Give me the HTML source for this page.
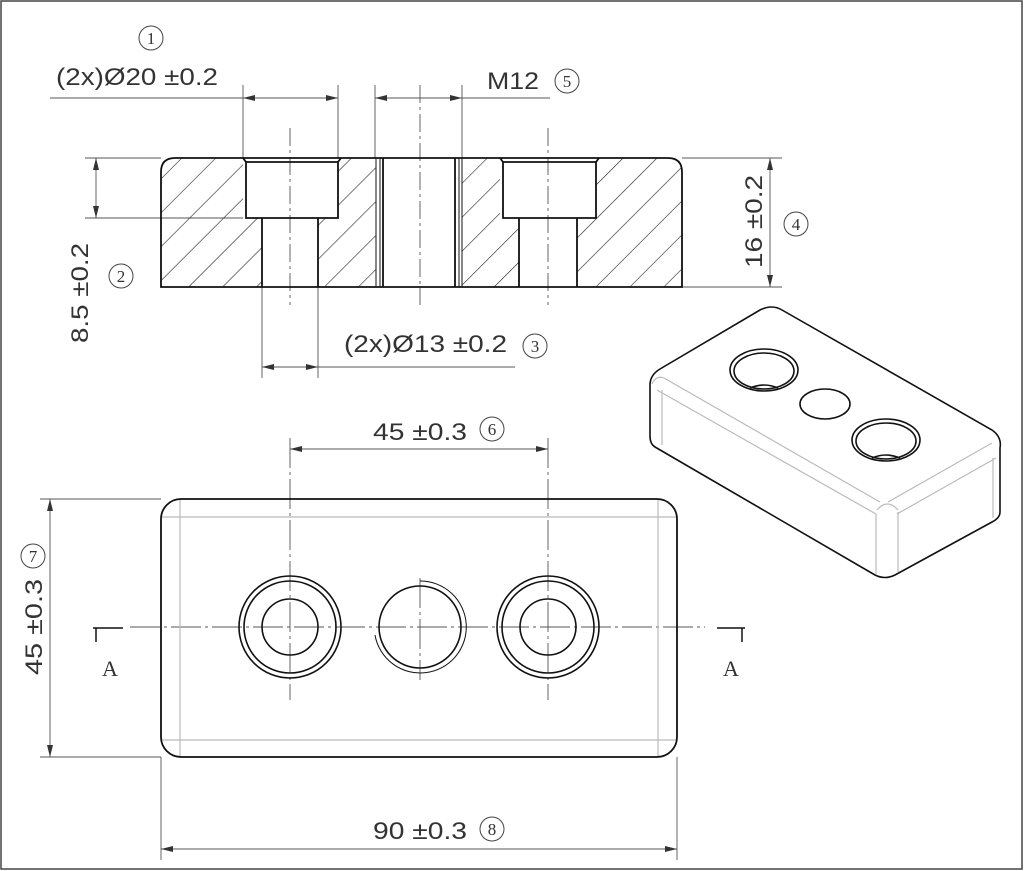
<!DOCTYPE html>
<html><head><meta charset="utf-8"><style>
html,body{margin:0;padding:0;background:#fff}
svg{display:block}
text{font-family:"Liberation Sans",sans-serif;fill:#333}
.t{font-size:24px}
.n{font-family:"Liberation Serif",serif;font-size:17px;text-anchor:middle}
</style></head><body>
<svg width="1024" height="871" viewBox="0 0 1024 871" xmlns="http://www.w3.org/2000/svg">
<defs>
<marker id="a" viewBox="0 0 12 6" refX="12" refY="3" markerWidth="12" markerHeight="6" orient="auto-start-reverse" markerUnits="userSpaceOnUse"><path d="M0,0L12,3L0,6z" fill="#333"/></marker>
<pattern id="h" width="24" height="24" patternUnits="userSpaceOnUse" patternTransform="rotate(45)"><line x1="0" y1="0" x2="0" y2="24" stroke="#222" stroke-width="1.2"/></pattern>
</defs>
<rect x="1" y="1" width="1021" height="868" fill="none" stroke="#444" stroke-width="1.5"/>
<g stroke="#555" stroke-width="0.9" fill="none">
<line x1="290" y1="128" x2="290" y2="305" stroke-dasharray="18,4,3,4"/>
<line x1="420" y1="85" x2="420" y2="305" stroke-dasharray="18,4,3,4"/>
<line x1="548" y1="128" x2="548" y2="305" stroke-dasharray="18,4,3,4"/>
<line x1="243" y1="85" x2="243" y2="158"/><line x1="338" y1="85" x2="338" y2="158"/>
<line x1="375" y1="85" x2="375" y2="158"/><line x1="462" y1="85" x2="462" y2="158"/>
<line x1="50" y1="98" x2="243" y2="98"/><line x1="462" y1="98" x2="550" y2="98"/>
<line x1="243" y1="98" x2="338" y2="98" marker-start="url(#a)" marker-end="url(#a)"/>
<line x1="375" y1="98" x2="462" y2="98" marker-start="url(#a)" marker-end="url(#a)"/>
<line x1="85" y1="158" x2="161" y2="158"/><line x1="85" y1="218" x2="243" y2="218"/>
<line x1="96" y1="158" x2="96" y2="218" marker-start="url(#a)" marker-end="url(#a)"/>
<line x1="682" y1="158" x2="782" y2="158"/><line x1="682" y1="287" x2="782" y2="287"/>
<line x1="770" y1="158" x2="770" y2="287" marker-start="url(#a)" marker-end="url(#a)"/>
<line x1="262" y1="287" x2="262" y2="378"/><line x1="318" y1="287" x2="318" y2="378"/>
<line x1="262" y1="367" x2="318" y2="367" marker-start="url(#a)" marker-end="url(#a)"/>
<line x1="318" y1="367" x2="515" y2="367"/>
</g>
<path d="M161,287 L161,172 Q161,158 175,158 L668,158 Q682,158 682,172 L682,287 Z M243,158 L338,158 L338,218 L318,218 L318,287 L262,287 L262,218 L243,218 Z M376,158 L462,158 L462,287 L376,287 Z M500,158 L596,158 L596,218 L577,218 L577,287 L519,287 L519,218 L500,218 Z" fill="url(#h)" fill-rule="evenodd" stroke="none"/>
<g stroke="#111" stroke-width="1.8" fill="none">
<path d="M161,287 L161,172 Q161,158 175,158 L668,158 Q682,158 682,172 L682,287 Z"/>
<path d="M243,158 L246,162 L338,162 L341,158 M246,162 L246,218 L338,218 L338,162 M262,218 L262,287 M318,218 L318,287"/>
<path d="M500,158 L503,162 L596,162 L599,158 M503,162 L503,218 L596,218 L596,162 M519,218 L519,287 M577,218 L577,287"/>
<path d="M383,158 L383,287 M455,158 L455,287"/>
</g>
<g stroke="#111" stroke-width="1" fill="none"><path d="M376,158 L376,287 M380,158 L380,287 M459,158 L459,287 M462,158 L462,287"/></g>
<g stroke="#444" stroke-width="1" fill="none">
<circle cx="151" cy="38" r="12"/><circle cx="567" cy="81" r="12"/><circle cx="535" cy="346" r="12"/>
<circle cx="121" cy="276" r="12"/><circle cx="796" cy="224" r="12"/><circle cx="492" cy="429" r="12"/>
<circle cx="33" cy="556" r="12"/><circle cx="492" cy="829" r="12"/>
</g>
<text class="n" x="151" y="44">1</text><text class="n" x="567" y="87">5</text><text class="n" x="535" y="352">3</text>
<text class="n" x="121" y="282">2</text><text class="n" x="796" y="230">4</text><text class="n" x="492" y="435">6</text>
<text class="n" x="33" y="562">7</text><text class="n" x="492" y="835">8</text>
<text class="t" x="56" y="85" textLength="162" lengthAdjust="spacingAndGlyphs">(2x)Ø20 ±0.2</text>
<text class="t" x="487" y="89" textLength="52" lengthAdjust="spacingAndGlyphs">M12</text>
<text class="t" x="344" y="352" textLength="163" lengthAdjust="spacingAndGlyphs">(2x)Ø13 ±0.2</text>
<text class="t" transform="translate(88,343) rotate(-90)" textLength="100" lengthAdjust="spacingAndGlyphs">8.5 ±0.2</text>
<text class="t" transform="translate(762,268) rotate(-90)" textLength="93" lengthAdjust="spacingAndGlyphs">16 ±0.2</text>
<g stroke="#555" stroke-width="0.9" fill="none">
<line x1="290" y1="438" x2="290" y2="700" stroke-dasharray="30,4,3,4"/>
<line x1="548" y1="438" x2="548" y2="700" stroke-dasharray="30,4,3,4"/>
<line x1="420" y1="578" x2="420" y2="680" stroke-dasharray="30,4,3,4"/>
<line x1="130" y1="627" x2="705" y2="627" stroke-dasharray="30,4,3,4"/>
<line x1="290" y1="449" x2="548" y2="449" marker-start="url(#a)" marker-end="url(#a)"/>
<line x1="40" y1="499" x2="161" y2="499"/><line x1="40" y1="757" x2="161" y2="757"/>
<line x1="50" y1="499" x2="50" y2="757" marker-start="url(#a)" marker-end="url(#a)"/>
<line x1="161" y1="757" x2="161" y2="860"/><line x1="677" y1="757" x2="677" y2="860"/>
<line x1="161" y1="849" x2="677" y2="849" marker-start="url(#a)" marker-end="url(#a)"/>
</g>
<g stroke="#111" stroke-width="1.5" fill="none">
<path d="M93,628 L123,628 M96,628 L96,642"/>
<path d="M717,628 L745,628 M742,628 L742,642"/>
</g>
<text x="102" y="676" style="font-family:'Liberation Serif',serif;font-size:22px">A</text>
<text x="723" y="676" style="font-family:'Liberation Serif',serif;font-size:22px">A</text>
<text class="t" x="373" y="440" textLength="94" lengthAdjust="spacingAndGlyphs">45 ±0.3</text>
<text class="t" x="373" y="839" textLength="94" lengthAdjust="spacingAndGlyphs">90 ±0.3</text>
<text class="t" transform="translate(42,675) rotate(-90)" textLength="96" lengthAdjust="spacingAndGlyphs">45 ±0.3</text>
<path d="M180,499 L180,757 M658,499 L658,757 M161,517 L677,517 M161,740 L677,740" stroke="#bbb" stroke-width="1.2" fill="none"/>
<rect x="161" y="499" width="516" height="258" rx="20" fill="none" stroke="#111" stroke-width="1.8"/>
<g stroke="#111" stroke-width="1.6" fill="none">
<circle cx="290" cy="627" r="51"/><circle cx="290" cy="627" r="46"/><circle cx="290" cy="627" r="28"/>
<circle cx="548" cy="627" r="51"/><circle cx="548" cy="627" r="46"/><circle cx="548" cy="627" r="28"/>
<circle cx="420" cy="627" r="41"/>
<path d="M420,581 A46,46 0 1,1 375,635" stroke-width="1"/>
</g>
<g stroke="#bbb" stroke-width="1.2" fill="none">
<path d="M652,384 Q656,375 664,378 L880,502 M657,390 L876,514 M888,502 L992,443 M897,514 L996,458"/>
<path d="M876,514 L876,574 M898,512 L898,572 M877,510 Q887,498 898,510 M662,390 L662,445 M993,458 L993,518"/>
</g>
<g stroke="#111" stroke-width="1.6" fill="none">
<path d="M760,310 Q772,304 782,310 L992,430 Q1002,437 1000,448 L1000,512 Q1000,518 992,522 L895,575 Q885,580 875,575 L655,447 Q650,444 650,436 L650,385 Q650,375 660,369 Z"/>
<ellipse cx="764" cy="370" rx="34" ry="21"/><ellipse cx="764" cy="371" rx="30" ry="18"/>
<path d="M750,388 Q764,382 778,388"/>
<ellipse cx="825" cy="404" rx="25" ry="15"/>
<ellipse cx="886" cy="440" rx="34" ry="21"/><ellipse cx="886" cy="441" rx="30" ry="18"/>
<path d="M872,458 Q886,452 900,458"/>
</g>
</svg>
</body></html>
